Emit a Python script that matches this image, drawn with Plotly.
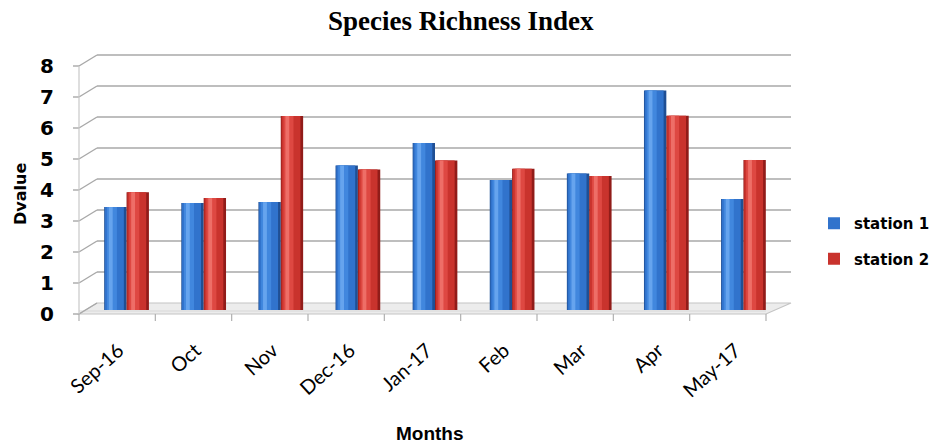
import plotly.graph_objects as go

# ---------------- data ----------------
months = ["Sep-16", "Oct", "Nov", "Dec-16", "Jan-17", "Feb", "Mar", "Apr", "May-17"]
station1 = [3.32, 3.45, 3.48, 4.66, 5.39, 4.19, 4.40, 7.08, 3.58]
station2 = [3.80, 3.61, 6.26, 4.53, 4.82, 4.56, 4.32, 6.27, 4.84]
y_ticks = [0, 1, 2, 3, 4, 5, 6, 7, 8]
series_names = ["station 1", "station 2"]

# ---------------- geometry ----------------
W, H = 941, 444
L, R, T, B = 88, 159, 62, 134
PW, PH = W - L - R, H - T - B
YMAX = 8
UNIT = PH / YMAX


def px(x):
    return (x - L) / PW


def py(y):
    return (H - B - y) / PH


def yv(v):  # pixel y of value v in bar plane
    return H - B - v * UNIT


FRONT = (-9, 4)
BACK = (9, -7)
XL, XR = L, W - R

# cylinder shading layers
BW = 0.29
shades = {
    0: ["#1f4f94", "#3173cc", "#4187de", "#66a4ee"],
    1: ["#911c19", "#c9332d", "#de4842", "#ee6e67"],
}
layers = [(0.0, BW), (0.01, BW - 0.045), (0.035, 0.13), (0.06, 0.05)]

fig = go.Figure()
for s, vals in enumerate([station1, station2]):
    base_off = -BW if s == 0 else 0.0
    for li, (o, w) in enumerate(layers):
        fig.add_trace(go.Bar(
            x=months, y=vals,
            offset=base_off + o, width=w,
            marker=dict(color=shades[s][li], line=dict(width=0)),
            name=series_names[s],
            showlegend=(li == 1),
            legendgroup=series_names[s],
            hoverinfo="skip" if li != 1 else None,
        ))

shapes = []
grid_col = "#a8a8a8"
# floor slab
fx0, fy0 = XL + FRONT[0], yv(0) + FRONT[1]
fx1 = XR + FRONT[0] - 7
bx0, by0 = XL + BACK[0], yv(0) + BACK[1]
bx1 = XR + BACK[0]
path = (f"M {px(fx0)} {py(fy0)} L {px(fx1)} {py(fy0)} L {px(bx1)} {py(by0)} "
        f"L {px(bx0)} {py(by0)} Z")
shapes.append(dict(type="path", xref="paper", yref="paper", path=path,
                   fillcolor="#ececec", line=dict(color="#c4c4c4", width=1.2), layer="below"))
shapes.append(dict(type="line", xref="paper", yref="paper",
                   x0=px(fx0), y0=py(fy0 - 3), x1=px(fx1), y1=py(fy0 - 3),
                   line=dict(color="#d8d8d8", width=1), layer="below"))
for k in y_ticks:
    yb = yv(k) + BACK[1]
    yf = yv(k) + FRONT[1]
    if k > 0:
        shapes.append(dict(type="line", xref="paper", yref="paper",
                           x0=px(bx0), y0=py(yb), x1=px(bx1), y1=py(yb),
                           line=dict(color=grid_col, width=1.6), layer="below"))
    shapes.append(dict(type="line", xref="paper", yref="paper",
                       x0=px(fx0), y0=py(yf), x1=px(bx0), y1=py(yb),
                       line=dict(color=grid_col, width=1.4), layer="below"))
    shapes.append(dict(type="line", xref="paper", yref="paper",
                       x0=px(fx0 - 6), y0=py(yf), x1=px(fx0), y1=py(yf),
                       line=dict(color=grid_col, width=1.4), layer="below"))
# front vertical axis line
shapes.append(dict(type="line", xref="paper", yref="paper",
                   x0=px(fx0), y0=py(yv(0) + FRONT[1]), x1=px(fx0), y1=py(yv(YMAX) + FRONT[1]),
                   line=dict(color="#c8c8c8", width=1.2), layer="below"))
# front category ticks
ncat = len(months)
step = (fx1 - fx0) / ncat
for i in range(ncat + 1):
    xx = fx0 + i * step
    shapes.append(dict(type="line", xref="paper", yref="paper",
                       x0=px(xx), y0=py(fy0), x1=px(xx), y1=py(fy0 + 7),
                       line=dict(color="#b0b0b0", width=1.2), layer="below"))

annotations = []
for k in y_ticks:
    annotations.append(dict(x=px(47), y=py(yv(k) + FRONT[1]), xref="paper", yref="paper",
                            text=f"<b>{k}</b>", showarrow=False, xanchor="center", yanchor="middle",
                            font=dict(family="DejaVu Sans", size=20, color="black")))
annotations.append(dict(x=px(20), y=py(194), xref="paper", yref="paper", text="<b>Dvalue</b>",
                        textangle=-90, showarrow=False, xanchor="center", yanchor="middle",
                        font=dict(family="DejaVu Sans", size=16, color="black")))
annotations.append(dict(x=px(461), y=py(21), xref="paper", yref="paper",
                        text="<b>Species Richness Index</b>", showarrow=False,
                        xanchor="center", yanchor="middle",
                        font=dict(family="Liberation Serif", size=27, color="black")))
annotations.append(dict(x=px(430), y=py(433), xref="paper", yref="paper", text="<b>Months</b>",
                        showarrow=False, xanchor="center", yanchor="middle",
                        font=dict(family="Liberation Sans Narrow, Liberation Sans", size=19, color="black")))

fig.update_layout(
    width=W, height=H,
    margin=dict(l=L, r=R, t=T, b=B, pad=0, autoexpand=False),
    paper_bgcolor="white", plot_bgcolor="rgba(0,0,0,0)",
    barmode="overlay",
    showlegend=True,
    legend=dict(x=px(814), y=py(241), xanchor="left", yanchor="middle",
                font=dict(family="DejaVu Sans", size=15, color="black", weight="bold"),
                traceorder="grouped", tracegroupgap=13, bgcolor="rgba(0,0,0,0)",
                itemwidth=30),
    shapes=shapes,
    annotations=annotations,
    xaxis=dict(type="category", range=[-0.5, ncat - 0.5], showgrid=False, zeroline=False,
               showline=False, ticks="", tickangle=-42, ticklabelstandoff=24,
               ticklabelshift=-8,
               tickfont=dict(family="Lato", size=20, color="black"), automargin=False),
    yaxis=dict(range=[0, YMAX], showgrid=False, zeroline=False, showline=False,
               showticklabels=False, ticks="", automargin=False),
)

fig.write_html("out.html")
